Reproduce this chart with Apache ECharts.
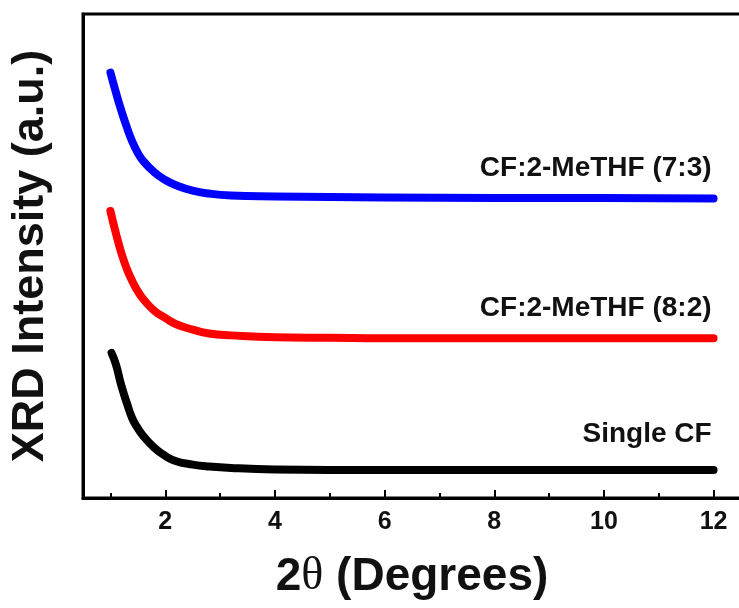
<!DOCTYPE html>
<html>
<head>
<meta charset="utf-8">
<script src="https://cdn.jsdelivr.net/npm/echarts@6/dist/echarts.min.js"></script>
<style>
  html, body { margin: 0; padding: 0; background: #fff; }
  #chart { width: 739px; height: 608px; }
</style>
</head>
<body>
<div id="chart"></div>
<script>
// XRD patterns (low-angle region), intensities in arbitrary units, curves stacked vertically
const seriesNames = ['CF:2-MeTHF (7:3)', 'CF:2-MeTHF (8:2)', 'Single CF'];
const seriesColors = ['#0000FF', '#FF0000', '#000000'];

const theta73 = [1.0, 1.1, 1.2, 1.3, 1.4, 1.5, 1.6, 1.8, 2.0, 2.2, 2.5, 2.8, 3.2, 4.0, 5.0, 6.0, 8.0, 10.0, 12.0];
const inten73 = [87.9, 83.8, 80.0, 76.6, 73.6, 71.3, 69.6, 67.3, 65.7, 64.6, 63.5, 62.9, 62.5, 62.3, 62.2, 62.1, 62.0, 62.0, 61.9];

const theta82 = [1.0, 1.1, 1.2, 1.3, 1.4, 1.5, 1.6, 1.8, 2.0, 2.2, 2.5, 2.8, 3.2, 4.0, 5.0, 6.0, 8.0, 10.0, 12.0];
const inten82 = [59.3, 54.7, 50.6, 47.3, 44.8, 42.7, 41.1, 38.7, 37.2, 35.9, 34.8, 34.0, 33.6, 33.2, 33.1, 33.0, 33.0, 33.0, 33.0];

const thetaCF = [1.02, 1.1, 1.2, 1.3, 1.4, 1.5, 1.6, 1.8, 2.0, 2.2, 2.5, 2.8, 3.2, 4.0, 5.0, 6.0, 8.0, 10.0, 12.0];
const intenCF = [30.0, 27.6, 23.2, 19.6, 16.4, 14.4, 12.8, 10.4, 8.7, 7.6, 6.9, 6.5, 6.2, 5.9, 5.8, 5.8, 5.8, 5.8, 5.8];

const majorTicks = [2, 4, 6, 8, 10, 12];
const minorTicks = [1, 3, 5, 7, 9, 11];

// vertical lift of each curve's name above its flat tail
const labelLift = [30, 30, 36];

function buildSeries(idx, xs, ys) {
  return {
    name: seriesNames[idx],
    type: 'line',
    data: xs.map((x, i) => [x, ys[i]]),
    symbol: 'none',
    smooth: 0.5,
    xAxisIndex: 0,
    lineStyle: { color: seriesColors[idx], width: 8, cap: 'round', join: 'round' },
    itemStyle: { color: seriesColors[idx] },
    endLabel: {
      show: true,
      formatter: seriesNames[idx],
      distance: 0,
      align: 'right',
      verticalAlign: 'middle',
      offset: [-2, -labelLift[idx]],
      fontFamily: 'Liberation Sans, Arial, sans-serif',
      fontWeight: 'bold',
      fontSize: 28,
      color: '#111'
    },
    z: 3 - idx
  };
}

const chart = echarts.init(document.getElementById('chart'), null, { renderer: 'canvas' });

chart.setOption({
  animation: false,
  backgroundColor: '#fff',
  grid: {
    left: 83, right: -2, top: 14, bottom: 110,
    show: true, borderColor: '#000', borderWidth: 3,
    outerBoundsMode: 'none'
  },
  xAxis: [
    {
      type: 'value', min: 0.5, max: 12.5, position: 'bottom',
      name: '{b|2}{t|θ}{b| (Degrees)}',
      nameLocation: 'middle', nameGap: 56,
      nameTextStyle: {
        rich: {
          b: { fontFamily: 'Liberation Sans, Arial, sans-serif', fontWeight: 'bold', fontSize: 46, color: '#111' },
          t: { fontFamily: 'Liberation Serif, serif', fontWeight: 'normal', fontSize: 46, color: '#111' }
        }
      },
      splitLine: { show: false },
      axisLine: { show: true, onZero: false, lineStyle: { color: '#000', width: 3 } },
      axisTick: { show: true, inside: true, length: 8, customValues: majorTicks, lineStyle: { color: '#000', width: 2 } },
      axisLabel: {
        show: true, customValues: majorTicks, margin: 12,
        fontFamily: 'Liberation Sans, Arial, sans-serif', fontWeight: 'bold', fontSize: 25, color: '#111'
      }
    },
    {
      type: 'value', min: 0.5, max: 12.5, position: 'bottom',
      splitLine: { show: false },
      axisLine: { show: false },
      axisTick: { show: true, inside: true, length: 5, customValues: minorTicks, lineStyle: { color: '#000', width: 2 } },
      axisLabel: { show: false }
    }
  ],
  yAxis: {
    type: 'value', min: 0, max: 100,
    name: 'XRD Intensity (a.u.)',
    nameLocation: 'middle', nameGap: 30, nameRotate: 90,
    nameTextStyle: { fontFamily: 'Liberation Sans, Arial, sans-serif', fontWeight: 'bold', fontSize: 45, color: '#111' },
    splitLine: { show: false },
    axisLine: { show: true, onZero: false, lineStyle: { color: '#000', width: 3 } },
    axisTick: { show: false },
    axisLabel: { show: false }
  },
  series: [
    buildSeries(0, theta73, inten73),
    buildSeries(1, theta82, inten82),
    buildSeries(2, thetaCF, intenCF)
  ]
});
</script>
</body>
</html>
